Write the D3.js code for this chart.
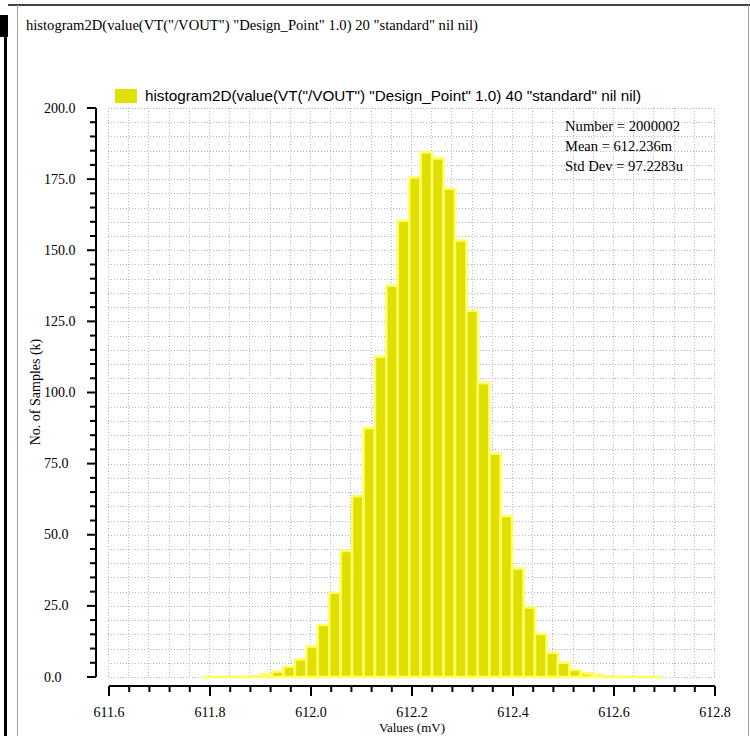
<!DOCTYPE html>
<html>
<head>
<meta charset="utf-8">
<script src="https://cdn.jsdelivr.net/npm/d3@7"></script>
<style>
  html, body { margin: 0; padding: 0; background: #ffffff; }
  svg { display: block; }
</style>
</head>
<body>
<svg id="chart" width="750" height="736"></svg>
<script>
// ---- data ----
const titleText = 'histogram2D(value(VT("/VOUT") "Design_Point" 1.0) 20 "standard" nil nil)';
const legendText = 'histogram2D(value(VT("/VOUT") "Design_Point" 1.0) 40 "standard" nil nil)';
const statsLines = ["Number = 2000002", "Mean = 612.236m", "Std Dev = 97.2283u"];
const binStart = 611.7871;      // mV
const binWidth = 0.022634;      // mV
const counts = [   // k samples per bin (40 bins)
  0.02, 0.03, 0.05, 0.1, 0.2,
  0.9, 1.9, 3.6, 6.2, 10.7, 18.3, 29.6, 44.3, 63.6, 87.5,
  112.6, 137.5, 160.4, 175.6, 184.4, 182.3, 171.6, 153.4, 128.7, 103.3,
  78.5, 56.6, 38.1, 24.4, 15.1, 8.5, 5.0, 2.5, 1.3, 0.8,
  0.2, 0.1, 0.05, 0.03, 0.02
];
const xTicks = [611.6, 611.8, 612.0, 612.2, 612.4, 612.6, 612.8];
const yTicks = [0, 25, 50, 75, 100, 125, 150, 175, 200];
const xDomain = [611.6, 612.8];
const yDomain = [0, 200];

// ---- drawing ----
const svg = d3.select("#chart");
const serif = "'Liberation Serif', 'DejaVu Serif', serif";
const sans = "'Liberation Sans', Arial, sans-serif";

const x = d3.scaleLinear().domain(xDomain).range([109, 715]);
const y = d3.scaleLinear().domain(yDomain).range([677, 108]);

// window frame
svg.append("line").attr("x1", 8).attr("x2", 750).attr("y1", 5).attr("y2", 5)
  .attr("stroke", "#000").attr("stroke-width", 1.5);
svg.append("rect").attr("x", 0).attr("y", 15).attr("width", 8).attr("height", 22).attr("fill", "#000");
svg.append("rect").attr("x", 4).attr("y", 37).attr("width", 3).attr("height", 699).attr("fill", "#000");
svg.append("line").attr("x1", 17.5).attr("x2", 17.5).attr("y1", 5).attr("y2", 736)
  .attr("stroke", "#a0a0a0").attr("stroke-width", 1);
svg.append("line").attr("x1", 748.5).attr("x2", 748.5).attr("y1", 5).attr("y2", 736)
  .attr("stroke", "#a0a0a0").attr("stroke-width", 1);

// title
svg.append("text").attr("x", 26).attr("y", 30)
  .attr("font-family", serif).attr("font-size", 14).attr("fill", "#000")
  .attr("textLength", 452).attr("lengthAdjust", "spacingAndGlyphs")
  .text(titleText);

// grid
const grid = svg.append("g").attr("stroke", "#b8b8b8").attr("stroke-width", 1)
  .attr("stroke-dasharray", "1,2");
const yGrid = d3.range(0, 201, 5);
grid.selectAll("line.h").data(yGrid).join("line").attr("class", "h")
  .attr("x1", x(xDomain[0]) - 1).attr("x2", x(xDomain[1]))
  .attr("y1", d => Math.round(y(d)) + 0.5).attr("y2", d => Math.round(y(d)) + 0.5);
const xGrid = d3.range(0, 31).map(i => xDomain[0] + i * 0.04);
grid.selectAll("line.v").data(xGrid).join("line").attr("class", "v")
  .attr("x1", d => Math.round(x(d)) - 0.5).attr("x2", d => Math.round(x(d)) - 0.5)
  .attr("y1", y(200)).attr("y2", y(0));

// bars
const bins = counts.map((c, i) => ({ x0: binStart + i * binWidth, x1: binStart + (i + 1) * binWidth, v: c }));
svg.append("g").selectAll("rect").data(bins).join("rect")
  .attr("x", d => x(d.x0))
  .attr("width", d => x(d.x1) - x(d.x0))
  .attr("y", d => y(d.v))
  .attr("height", d => y(0) - y(d.v))
  .attr("fill", "#dfdf00")
  .attr("stroke", "#ffff66")
  .attr("stroke-width", 2.5);

// y axis
const yAxisX = 96;
const yMinor = d3.range(0, 201, 5);
const gy = svg.append("g").attr("transform", `translate(${yAxisX},0)`);
gy.append("line").attr("x1", 0).attr("x2", 0).attr("y1", y(200)).attr("y2", y(0))
  .attr("stroke", "#000").attr("stroke-width", 2);
gy.selectAll("line.t").data(yMinor).join("line").attr("class", "t")
  .attr("x1", d => (d % 25 === 0 ? -9 : -6)).attr("x2", 0)
  .attr("y1", d => y(d)).attr("y2", d => y(d))
  .attr("stroke", "#000").attr("stroke-width", 2);
svg.append("g").selectAll("text").data(yTicks).join("text")
  .attr("x", 44).attr("y", d => y(d)).attr("dy", "0.33em")
  .attr("font-family", serif).attr("font-size", 14).attr("fill", "#000")
  .text(d => d3.format(".1f")(d));
svg.append("text")
  .attr("transform", "translate(40,392) rotate(-90)")
  .attr("text-anchor", "middle")
  .attr("font-family", serif).attr("font-size", 14).attr("fill", "#000")
  .text("No. of Samples (k)");

// x axis
const xAxisY = 686;
const xMinor = d3.range(0, 31).map(i => xDomain[0] + i * 0.04);
const gx = svg.append("g").attr("transform", `translate(0,${xAxisY})`);
gx.append("line").attr("x1", x(xDomain[0])).attr("x2", x(xDomain[1])).attr("y1", 0).attr("y2", 0)
  .attr("stroke", "#000").attr("stroke-width", 2);
gx.selectAll("line.t").data(xMinor).join("line").attr("class", "t")
  .attr("x1", d => x(d)).attr("x2", d => x(d))
  .attr("y1", 0).attr("y2", (d, i) => (i % 5 === 0 ? 10 : 6))
  .attr("stroke", "#000").attr("stroke-width", 2);
svg.append("g").selectAll("text").data(xTicks).join("text")
  .attr("x", d => x(d)).attr("y", 717).attr("text-anchor", "middle")
  .attr("font-family", serif).attr("font-size", 14).attr("fill", "#000")
  .text(d => d3.format(".1f")(d));
svg.append("text").attr("x", 412).attr("y", 732).attr("text-anchor", "middle")
  .attr("font-family", serif).attr("font-size", 13).attr("fill", "#000")
  .text("Values (mV)");

// legend
svg.append("rect").attr("x", 115).attr("y", 89).attr("width", 22).attr("height", 14).attr("fill", "#dfdf00");
svg.append("text").attr("x", 145).attr("y", 101)
  .attr("font-family", sans).attr("font-size", 15).attr("fill", "#000")
  .attr("textLength", 496).attr("lengthAdjust", "spacingAndGlyphs")
  .text(legendText);

// stats
svg.append("g").selectAll("text").data(statsLines).join("text")
  .attr("x", 565).attr("y", (d, i) => 131 + i * 20)
  .attr("font-family", serif).attr("font-size", 14).attr("fill", "#000")
  .attr("textLength", (d, i) => [115, 107, 118][i]).attr("lengthAdjust", "spacingAndGlyphs")
  .text(d => d);
</script>
</body>
</html>
